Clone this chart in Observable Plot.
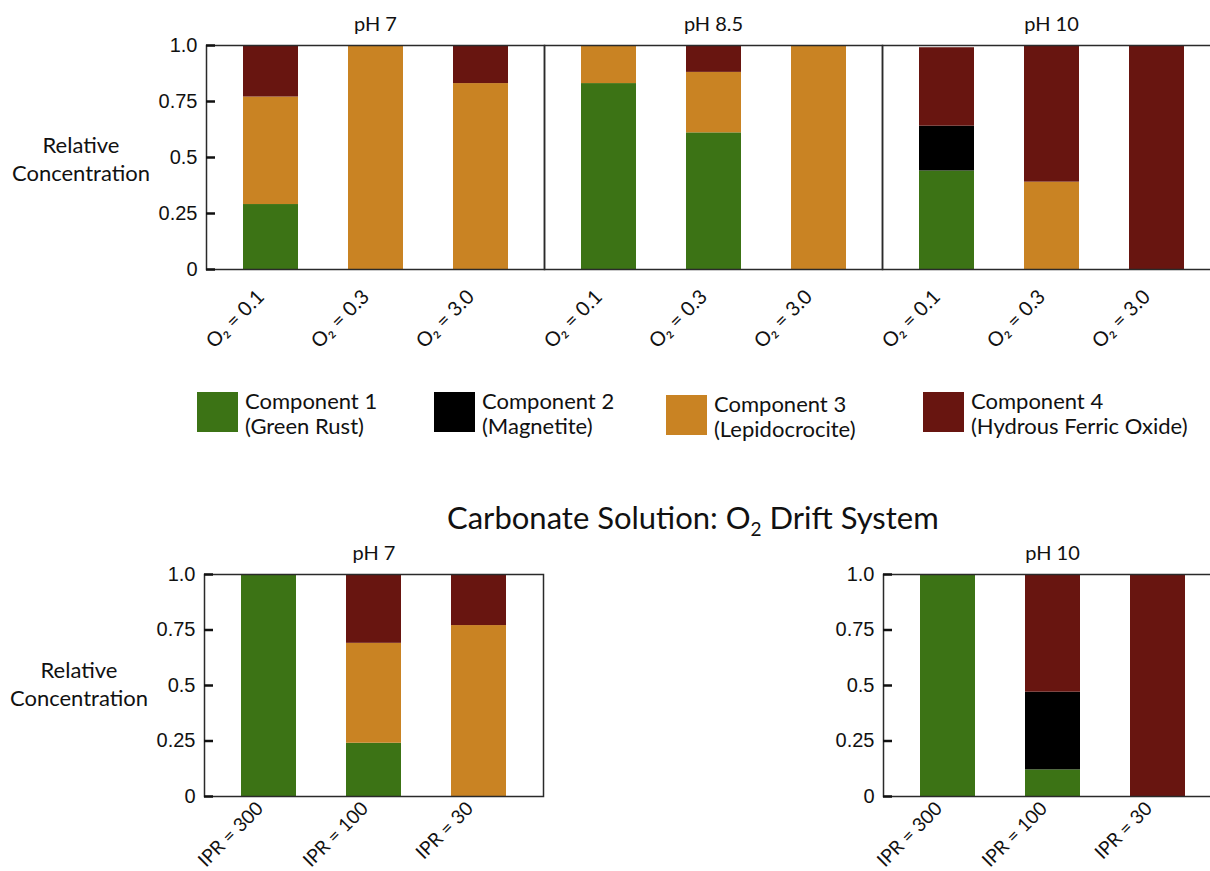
<!DOCTYPE html>
<html>
<head>
<meta charset="utf-8">
<script src="https://cdn.jsdelivr.net/npm/d3@7"></script>
<script src="https://cdn.jsdelivr.net/npm/@observablehq/plot@0.6"></script>
<style>
  html, body { margin: 0; padding: 0; background: #fff; overflow: hidden; }
  #root { position: relative; width: 1210px; height: 871px; overflow: hidden; font-family: Lato, "Open Sans", sans-serif; color: #111; }
  #root svg { max-width: none !important; }
  .abs { position: absolute; }
  .ylab { font-size: 22px; line-height: 28px; text-align: center; width: 160px; }
  .leg-sw { position: absolute; width: 41px; height: 40px; }
  .leg-tx { position: absolute; font-size: 22px; line-height: 25px; white-space: nowrap; }
  .title { font-size: 31px; white-space: nowrap; line-height: 37px; }
  .title sub { font-size: 19px; vertical-align: -7px; line-height: 0; }
</style>
</head>
<body>
<div id="root">
  <div id="top" class="abs" style="left:0;top:0"></div>
  <div class="abs ylab" style="left:1px;top:131px">Relative<br>Concentration</div>
  <div id="legend"></div>
  <div class="abs title" style="left:447px;top:499px">Carbonate Solution: O<sub>2</sub> Drift System</div>
  <div id="b1" class="abs" style="left:0;top:529px"></div>
  <div id="b2" class="abs" style="left:680px;top:529px"></div>
  <div class="abs ylab" style="left:-1px;top:656px">Relative<br>Concentration</div>
</div>
<script>
// ---------- data ----------
const components = ["Component 1", "Component 2", "Component 3", "Component 4"];
const componentNames = ["(Green Rust)", "(Magnetite)", "(Lepidocrocite)", "(Hydrous Ferric Oxide)"];
const componentColors = ["#3c7315", "#000000", "#c98323", "#681510"];

const yTickValues = [0, 0.25, 0.5, 0.75, 1.0];
const yTickLabels = ["0", "0.25", "0.5", "0.75", "1.0"];

// Top row (O2 levels, three pH)
const topPH = ["pH 7", "pH 8.5", "pH 10"];
const o2Levels = ["O₂ = 0.1", "O₂ = 0.3", "O₂ = 3.0"];
// values ordered: pH 7 (0.1,0.3,3.0), pH 8.5 (...), pH 10 (...)
const topC1 = [0.29, 0, 0,    0.83, 0.61, 0,    0.44, 0, 0];
const topC2 = [0, 0, 0,       0, 0, 0,          0.20, 0, 0];
const topC3 = [0.48, 1, 0.83, 0.17, 0.27, 1,    0, 0.39, 0];
const topC4 = [0.23, 0, 0.17, 0, 0.12, 0,       0.35, 0.61, 1];

// Bottom row (IPR, carbonate O2 drift, two pH)
const botPH = ["pH 7", "pH 10"];
const iprLevels = ["IPR = 300", "IPR = 100", "IPR = 30"];
const botC1 = [1, 0.24, 0,     1, 0.12, 0];
const botC2 = [0, 0, 0,        0, 0.35, 0];
const botC3 = [0, 0.45, 0.77,  0, 0, 0];
const botC4 = [0, 0.31, 0.23,  0, 0.53, 1];

// ---------- build tables ----------
function buildTable(phs, conds, series) {
  const rows = [];
  phs.forEach((ph, p) => {
    conds.forEach((cond, c) => {
      series.forEach((vals, k) => {
        rows.push({ph, cond, comp: components[k], value: vals[p * conds.length + c]});
      });
    });
  });
  return rows;
}
const topData = buildTable(topPH, o2Levels, [topC1, topC2, topC3, topC4]);
const botData = buildTable(botPH, iprLevels, [botC1, botC2, botC3, botC4]);

const colorOpts = {domain: components, range: componentColors};
const frameStroke = "#2a2a2a";

function yAxis() {
  return Plot.axisY({
    ticks: yTickValues,
    tickFormat: (d) => yTickLabels[yTickValues.indexOf(d)],
    tickSize: -9, tickPadding: 18, strokeWidth: 2.5,
    fontSize: 20, fontFamily: "Liberation Sans, Arial, sans-serif", fill: "#111"
  });
}
function xAxis(pad, dx, size) {
  return Plot.axisX({
    tickRotate: -45, tickSize: 0, tickPadding: pad, dx,
    fontSize: size, fontFamily: "Lato, sans-serif", fill: "#111"
  });
}
function fxAxis() {
  return Plot.axisFx({
    anchor: "top", tickSize: 0, tickPadding: 15,
    fontSize: 20, fontFamily: "Lato, sans-serif", fill: "#111"
  });
}

// ---------- top plot ----------
const topPlot = Plot.plot({
  width: 1220, height: 360,
  marginLeft: 206, marginRight: 0, marginTop: 45, marginBottom: 91,
  style: {background: "transparent", overflow: "visible", maxWidth: "none"},
  fx: {domain: topPH, padding: 0, label: null},
  x: {domain: o2Levels, paddingInner: 0.48, paddingOuter: 0.34, label: null},
  y: {domain: [0, 1], label: null},
  color: colorOpts,
  marks: [
    Plot.barY(topData, {fx: "ph", x: "cond", y: "value", fill: "comp"}),
    Plot.frame({stroke: frameStroke, strokeWidth: 1.5}),
    yAxis(),
    xAxis(24, -10, 20),
    fxAxis()
  ]
});
document.getElementById("top").appendChild(topPlot);

// ---------- bottom plots ----------
function bottomPlot(ph, width, marginLeft, marginRight) {
  const data = botData.filter(d => d.ph === ph);
  return Plot.plot({
    width, height: 342,
    marginLeft, marginRight, marginTop: 45, marginBottom: 75,
    style: {background: "transparent", overflow: "visible", maxWidth: "none"},
    fx: {domain: [ph], padding: 0, label: null},
    x: {domain: iprLevels, paddingInner: 0.48, paddingOuter: 0.34, label: null},
    y: {domain: [0, 1], label: null},
    color: colorOpts,
    marks: [
      Plot.barY(data, {fx: "ph", x: "cond", y: "value", fill: "comp"}),
      Plot.frame({stroke: frameStroke, strokeWidth: 1.5}),
      yAxis(),
      xAxis(9, -9, 19),
      fxAxis()
    ]
  });
}
document.getElementById("b1").appendChild(bottomPlot("pH 7", 544, 204, 1));
document.getElementById("b2").appendChild(bottomPlot("pH 10", 541, 203, 0));

// ---------- legend ----------
const legendX = [197, 434, 666, 923];
const legendY = [392, 392, 395, 392];
const legend = document.getElementById("legend");
components.forEach((c, i) => {
  const sw = document.createElement("div");
  sw.className = "leg-sw";
  sw.style.left = legendX[i] + "px";
  sw.style.top = legendY[i] + "px";
  sw.style.background = componentColors[i];
  legend.appendChild(sw);
  const tx = document.createElement("div");
  tx.className = "leg-tx";
  tx.style.left = (legendX[i] + 48) + "px";
  tx.style.top = (legendY[i] - 4) + "px";
  tx.innerHTML = c + "<br>" + componentNames[i];
  legend.appendChild(tx);
});
</script>
</body>
</html>
